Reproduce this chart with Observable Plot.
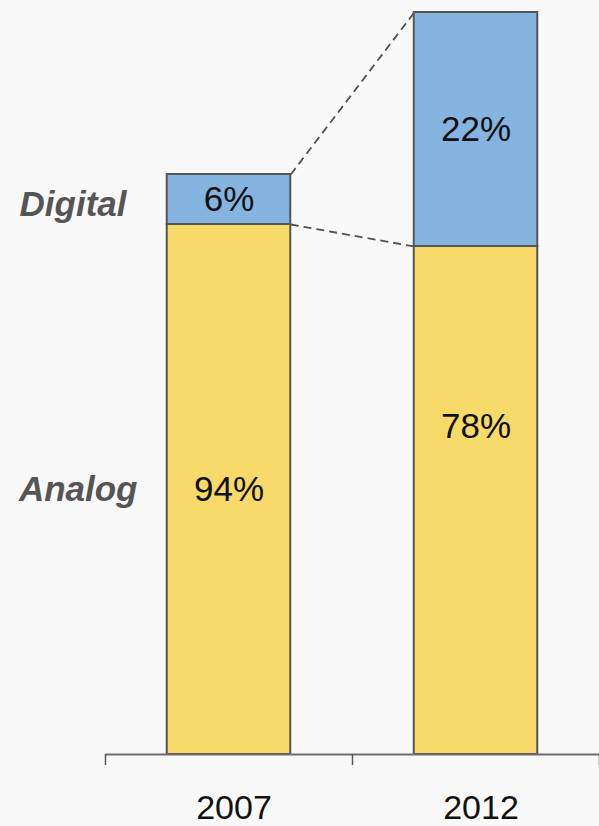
<!DOCTYPE html>
<html>
<head>
<meta charset="utf-8">
<script src="https://cdn.jsdelivr.net/npm/d3@7"></script>
<script src="https://cdn.jsdelivr.net/npm/@observablehq/plot@0.6"></script>
<style>
  html, body { margin: 0; padding: 0; background: #f9f9f9; }
  #chart { width: 599px; height: 826px; overflow: hidden; }
</style>
</head>
<body>
<div id="chart"></div>
<script>
// Data (arbitrary volume units; labels show the shares)
const years = ["2007", "2012"];
const analog = [265, 254];
const digital = [25, 117];
const analogShare = ["94%", "78%"];
const digitalShare = ["6%", "22%"];
const seriesNames = ["Analog", "Digital"];

const analogColor = "#F7DA69";
const digitalColor = "#85B4E0";
const edge = "#555555";
const font = "Arial, 'Liberation Sans', sans-serif";

const rows = [];
years.forEach((yr, i) => {
  rows.push({year: yr, i, type: "Analog", y1: 0, y2: analog[i], label: analogShare[i]});
  rows.push({year: yr, i, type: "Digital", y1: analog[i], y2: analog[i] + digital[i], label: digitalShare[i]});
});
const yMax = d3.max(years, (_, i) => analog[i] + digital[i]);

const links = [
  {x1: 0.75, x2: 1.25, y1: analog[0] + digital[0], y2: analog[1] + digital[1]},
  {x1: 0.75, x2: 1.25, y1: analog[0], y2: analog[1]}
];

const chart = Plot.plot({
  width: 599,
  height: 826,
  marginTop: 12,
  marginBottom: 72,
  marginLeft: 105,
  marginRight: 0,
  style: {background: "#f9f9f9", fontFamily: font, overflow: "visible"},
  x: {domain: [0, years.length], axis: null},
  y: {domain: [0, yMax], axis: null},
  color: {domain: seriesNames, range: [analogColor, digitalColor]},
  marks: [
    Plot.link(links, {x1: "x1", x2: "x2", y1: "y1", y2: "y2", stroke: "#505050", strokeWidth: 1.8, strokeDasharray: "8,5"}),
    Plot.rect(rows, {x1: d => d.i + 0.25, x2: d => d.i + 0.75, y1: "y1", y2: "y2", fill: "type", stroke: edge, strokeWidth: 2}),
    Plot.ruleY([0], {stroke: "#6e6e6e", strokeWidth: 2}),
    Plot.axisX({ticks: d3.range(years.length + 1), tickSize: 11, tickFormat: () => "", stroke: "#555", strokeWidth: 1.5}),
    Plot.text(rows.filter(d => !(d.type === "Analog" && d.i === 1)), {x: d => d.i + 0.5, y: d => (d.y1 + d.y2) / 2, text: "label", fontSize: 35, fill: "#111"}),
    Plot.text(rows.filter(d => d.type === "Analog" && d.i === 1), {x: d => d.i + 0.5, y: d => (d.y1 + d.y2) / 2, dy: -74, text: "label", fontSize: 35, fill: "#111"}),
    Plot.text([{t: "Digital", y: (analog[0] + analog[0] + digital[0]) / 2}], {x: 0, y: "y", dx: 21, dy: 5, text: "t", textAnchor: "end", fontSize: 35, fontWeight: "bold", fontStyle: "italic", fill: "#555"}),
    Plot.text([{t: "Analog", y: analog[0] / 2}], {x: 0, y: "y", dx: 32, text: "t", textAnchor: "end", fontSize: 35, fontWeight: "bold", fontStyle: "italic", fill: "#555"}),
    Plot.text(years, {x: (d, i) => i + 0.5, y: 0, dy: 54, dx: 5, text: d => d, fontSize: 34, fill: "#111"})
  ]
});
document.getElementById("chart").appendChild(chart);
</script>
</body>
</html>
